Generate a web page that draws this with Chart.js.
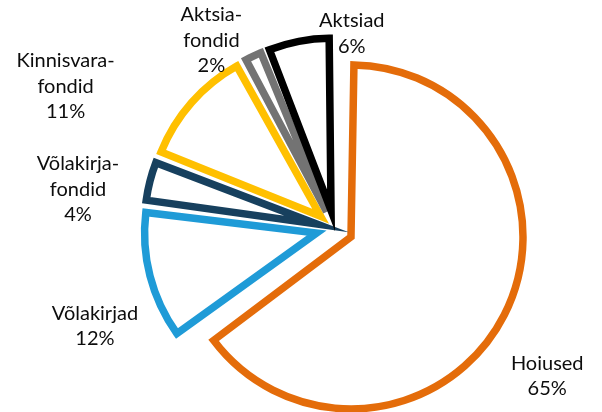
<!DOCTYPE html>
<html>
<head>
<meta charset="utf-8">
<script src="https://cdn.jsdelivr.net/npm/chart.js@4/dist/chart.umd.min.js"></script>
<style>
  html, body { margin: 0; padding: 0; background: #ffffff; }
  #wrap { width: 602px; height: 412px; position: relative; }
</style>
</head>
<body>
<div id="wrap"><canvas id="c" width="602" height="412"></canvas></div>
<script>
// ---- data ----
const categories = [
  ['Hoiused'],
  ['Võlakirjad'],
  ['Võlakirja-', 'fondid'],
  ['Kinnisvara-', 'fondid'],
  ['Aktsia-', 'fondid'],
  ['Aktsiad']
];
const values = [65, 12, 4, 11, 2, 6];
const percentLabels = ['65%', '12%', '4%', '11%', '2%', '6%'];

// ---- styles ----
const borderColors = ['#E46C0A', '#1F9BD7', '#17405E', '#FFC000', '#737373', '#000000'];
const SLICE_RADIUS = 172;
const EXPLODE = 74;            // Chart.js arc offset (translation = EXPLODE/4)
const LINE_H = 25.5;
const labelNudges = [[43, 61], [-55, 50], [-72, 8], [-126, -16], [-42, -16], [53, -8]];

const equalRadius = {
  id: 'equalRadius',
  beforeDatasetsDraw(chart) {
    const meta = chart.getDatasetMeta(0);
    const t = EXPLODE / 4;
    meta.data.forEach(arc => {
      const fix = 1 - Math.sin(Math.min(Math.PI, arc.circumference));
      arc.outerRadius = SLICE_RADIUS - t * fix;
    });
  }
};

const sliceLabels = {
  id: 'sliceLabels',
  afterDatasetsDraw(chart) {
    const ctx = chart.ctx;
    const meta = chart.getDatasetMeta(0);
    const t = EXPLODE / 4;
    ctx.save();
    ctx.font = '20px Lato, "Open Sans", sans-serif';
    ctx.fillStyle = '#0d0d0d';
    ctx.textAlign = 'center';
    ctx.textBaseline = 'middle';
    meta.data.forEach((arc, i) => {
      const mid = (arc.startAngle + arc.endAngle) / 2;
      const r = SLICE_RADIUS + t;
      const ax = arc.x + Math.cos(mid) * r + labelNudges[i][0];
      const ay = arc.y + Math.sin(mid) * r + labelNudges[i][1];
      const lines = categories[i].concat([percentLabels[i]]);
      const y0 = ay - (lines.length - 1) * LINE_H / 2;
      lines.forEach((ln, k) => ctx.fillText(ln, ax, y0 + k * LINE_H));
    });
    ctx.restore();
  }
};

new Chart(document.getElementById('c'), {
  type: 'pie',
  data: {
    labels: categories.map(c => c.join('')),
    datasets: [{
      data: values,
      backgroundColor: '#ffffff',
      borderColor: borderColors,
      borderWidth: 7.5,
      borderJoinStyle: 'miter',
      offset: EXPLODE,
      hoverOffset: EXPLODE
    }]
  },
  options: {
    responsive: false,
    animation: false,
    events: [],
    radius: SLICE_RADIUS,
    layout: { padding: { left: 67, right: 0, top: 45, bottom: 0 } },
    plugins: {
      legend: { display: false },
      tooltip: { enabled: false }
    }
  },
  plugins: [equalRadius, sliceLabels]
});
</script>
</body>
</html>
